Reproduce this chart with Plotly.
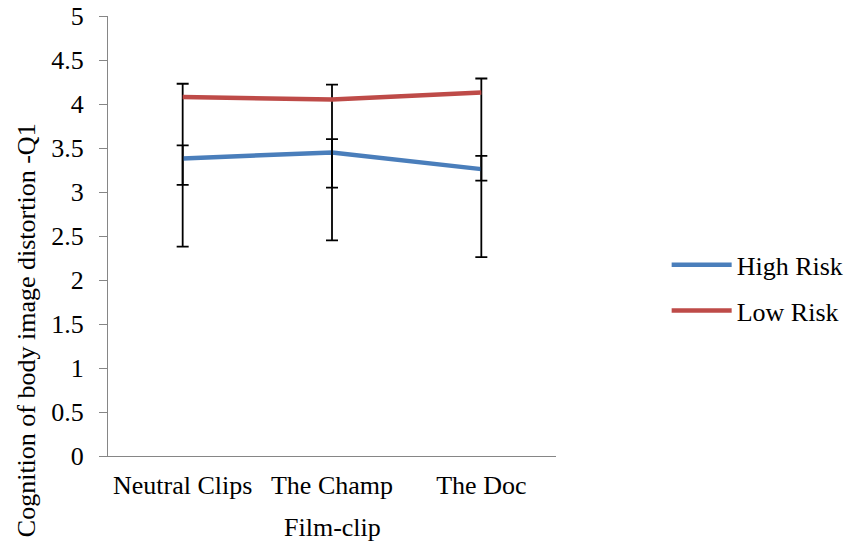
import plotly.graph_objects as go

categories = ["Neutral Clips", "The Champ", "The Doc"]
high_risk = [3.38, 3.45, 3.26]
low_risk = [4.08, 4.05, 4.13]
high_err_plus = [0.15, 0.15, 0.15]
high_err_minus = [1.0, 1.0, 1.0]
low_err_plus = [0.15, 0.17, 0.16]
low_err_minus = [1.0, 1.0, 1.0]
y_ticks = [0, 0.5, 1, 1.5, 2, 2.5, 3, 3.5, 4, 4.5, 5]
y_tick_labels = ["0", "0.5", "1", "1.5", "2", "2.5", "3", "3.5", "4", "4.5", "5"]

FONT = "Liberation Serif"
FS = 26

fig = go.Figure()
fig.add_trace(go.Scatter(
    x=categories, y=high_risk, mode="lines", name="High Risk",
    line=dict(color="#4A7EBB", width=4.5), legendgroup="h",
    error_y=dict(type="data", symmetric=False, array=high_err_plus,
                 arrayminus=high_err_minus, color="black", thickness=1.8, width=6),
))
fig.add_trace(go.Scatter(
    x=categories, y=low_risk, mode="lines", name="Low Risk",
    line=dict(color="#BE4B48", width=4.5), legendgroup="l",
    error_y=dict(type="data", symmetric=False, array=low_err_plus,
                 arrayminus=low_err_minus, color="black", thickness=1.8, width=6),
))

fig.update_layout(
    width=847, height=545,
    margin=dict(l=108, r=291, t=16, b=89, autoexpand=False),
    paper_bgcolor="white", plot_bgcolor="white",
    font=dict(family=FONT, size=FS, color="black"),
    showlegend=True,
    legend=dict(x=1.247, y=0.382, xanchor="left", yanchor="middle",
                itemwidth=60, tracegroupgap=9,
                font=dict(family=FONT, size=FS, color="black"),
                bgcolor="rgba(0,0,0,0)"),
    xaxis=dict(type="category", range=[-0.5, 2.5], showgrid=False,
               automargin=False,
               showline=True, linecolor="#868686", linewidth=1.3,
               ticks="", ticklabelstandoff=6,
               tickfont=dict(family=FONT, size=FS)),
    yaxis=dict(range=[0, 5], tickvals=y_ticks, ticktext=y_tick_labels,
               automargin=False,
               showgrid=False, zeroline=False,
               showline=True, linecolor="#868686", linewidth=1.3,
               ticks="outside", ticklen=8, tickcolor="#868686", tickwidth=1.3,
               ticklabelstandoff=10,
               tickfont=dict(family=FONT, size=FS)),
    annotations=[
        dict(text="Cognition of body image distortion -Q1",
             textangle=-90, xref="paper", yref="paper",
             x=-0.183, y=0.286, xanchor="center", yanchor="middle",
             showarrow=False, font=dict(family=FONT, size=FS)),
        dict(text="Film-clip", xref="paper", yref="paper",
             x=0.5, y=-0.1635, xanchor="center", yanchor="middle",
             showarrow=False, font=dict(family=FONT, size=FS)),
    ],
)

fig.write_html("out.html", config={"displayModeBar": False},
               post_script="document.body.style.margin='0';document.body.style.padding='0';")
